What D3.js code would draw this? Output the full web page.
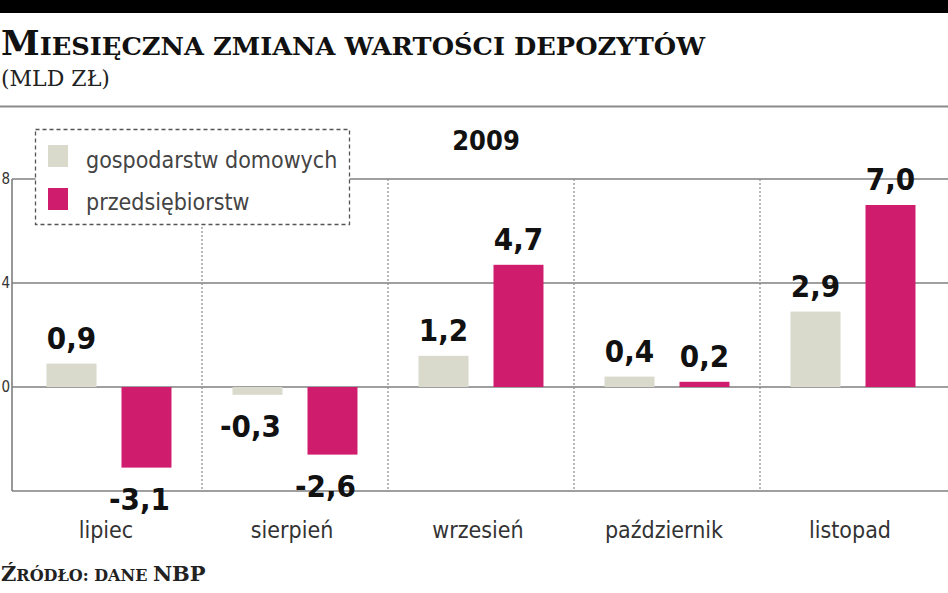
<!DOCTYPE html>
<html><head><meta charset="utf-8">
<script src="https://cdn.jsdelivr.net/npm/d3@7"></script>
<style>
html,body{margin:0;padding:0;background:#fff;overflow:hidden;}
svg{display:block;}
</style></head>
<body>
<script>
const months = ["lipiec", "sierpień", "wrzesień", "październik", "listopad"];
const households = [0.9, -0.3, 1.2, 0.4, 2.9];
const companies = [-3.1, -2.6, 4.7, 0.2, 7.0];
const seriesNames = ["gospodarstw domowych", "przedsiębiorstw"];
const tickValues = [8, 4, 0];
const gridValues = [8, 4, 0, -4];
const yearLabel = "2009";

const W = 948, H = 593;
const colors = ["#d9d9cc", "#d01c6c"];
const svg = d3.select("body").append("svg").attr("width", W).attr("height", H);

// top bar & rules
svg.append("rect").attr("x", 0).attr("y", 0).attr("width", W).attr("height", 13).attr("fill", "#000");
svg.append("line").attr("x1", 0).attr("x2", W).attr("y1", 106.5).attr("y2", 106.5).attr("stroke", "#8a8a8a").attr("stroke-width", 2);

// title
const title = svg.append("text").attr("x", 1).attr("y", 55)
  .attr("font-family", "DejaVu Serif").attr("font-weight", "bold").attr("fill", "#111")
  .attr("textLength", 704).attr("lengthAdjust", "spacingAndGlyphs");
title.append("tspan").attr("font-size", 34).text("M");
title.append("tspan").attr("font-size", 25).text("IESIĘCZNA ZMIANA WARTOŚCI DEPOZYTÓW");

svg.append("text").attr("x", 1).attr("y", 86)
  .attr("font-family", "DejaVu Serif").attr("font-size", 22).attr("fill", "#222")
  .text("(MLD ZŁ)");

// source
const src = svg.append("text").attr("x", 1).attr("y", 581)
  .attr("font-family", "DejaVu Serif").attr("font-weight", "bold").attr("fill", "#222");
src.append("tspan").attr("font-size", 21).text("Ź");
src.append("tspan").attr("font-size", 16).text("RÓDŁO: DANE ");
src.append("tspan").attr("font-size", 21).text("NBP");

// scales
const x = d3.scaleBand().domain(months).range([16, 946]).paddingInner(0).paddingOuter(0);
const y = d3.scaleLinear().domain([-4, 8]).range([491, 179]);
const sub = d3.scaleBand().domain([0, 1]).range([0, x.bandwidth()]).paddingInner(1 / 3).paddingOuter(0.407);

const condensed = "'DejaVu Sans Condensed', 'DejaVu Sans', sans-serif";

// gridlines
svg.append("g").selectAll("line").data(gridValues).join("line")
  .attr("x1", 12).attr("x2", W).attr("y1", d => y(d)).attr("y2", d => y(d))
  .attr("stroke", "#7f7f7f").attr("stroke-width", 1.6);

// left axis line
svg.append("line").attr("x1", 12).attr("x2", 12).attr("y1", y(8)).attr("y2", y(-4))
  .attr("stroke", "#7f7f7f").attr("stroke-width", 1.6);

// tick labels
svg.append("g").selectAll("text").data(tickValues).join("text")
  .attr("x", 10).attr("y", d => y(d)).attr("dy", "0.36em").attr("text-anchor", "end")
  .attr("font-family", condensed).attr("font-size", 15).attr("fill", "#333")
  .text(d => d);

// separators
svg.append("g").selectAll("line").data(months.slice(1)).join("line")
  .attr("x1", d => x(d)).attr("x2", d => x(d)).attr("y1", y(8)).attr("y2", y(-4))
  .attr("stroke", "#8a8a8a").attr("stroke-width", 1.2).attr("stroke-dasharray", "2,2");

// bars
const data = [];
months.forEach((m, i) => {
  data.push({m, s: 0, v: households[i]});
  data.push({m, s: 1, v: companies[i]});
});
svg.append("g").selectAll("rect").data(data).join("rect")
  .attr("x", d => x(d.m) + sub(d.s))
  .attr("width", sub.bandwidth())
  .attr("y", d => y(Math.max(0, d.v)))
  .attr("height", d => Math.abs(y(d.v) - y(0)))
  .attr("fill", d => colors[d.s]);

// value labels
const fmt = v => v.toFixed(1).replace(".", ",");
svg.append("g").selectAll("text").data(data).join("text")
  .attr("x", d => x(d.m) + sub(d.s) + sub.bandwidth() / 2 + (d.v < 0 ? -7 : 0))
  .attr("y", d => d.v >= 0 ? y(d.v) - 15 : y(d.v) + 42)
  .attr("text-anchor", "middle")
  .attr("font-family", condensed).attr("font-weight", "bold").attr("font-size", 31).attr("fill", "#111")
  .text(d => fmt(d.v));

// category labels
svg.append("g").selectAll("text").data(months).join("text")
  .attr("x", d => x(d) + x.bandwidth() / 2 - 3).attr("y", 538).attr("text-anchor", "middle")
  .attr("font-family", condensed).attr("font-size", 23).attr("fill", "#333")
  .text(d => d);

// year
svg.append("text").attr("x", 486).attr("y", 150).attr("text-anchor", "middle")
  .attr("font-family", condensed).attr("font-weight", "bold").attr("font-size", 27).attr("fill", "#111")
  .text(yearLabel);

// legend
const lg = svg.append("g");
lg.append("rect").attr("x", 35.5).attr("y", 129.5).attr("width", 314).attr("height", 95)
  .attr("fill", "#fff").attr("stroke", "#555").attr("stroke-width", 1.3).attr("stroke-dasharray", "4,3");
seriesNames.forEach((n, i) => {
  lg.append("rect").attr("x", 48).attr("y", 145 + i * 43).attr("width", 20).attr("height", 22).attr("fill", colors[i]);
  lg.append("text").attr("x", 86).attr("y", 168 + i * 42)
    .attr("font-family", condensed).attr("font-size", 23).attr("fill", "#444").text(n);
});
</script>
</body></html>
